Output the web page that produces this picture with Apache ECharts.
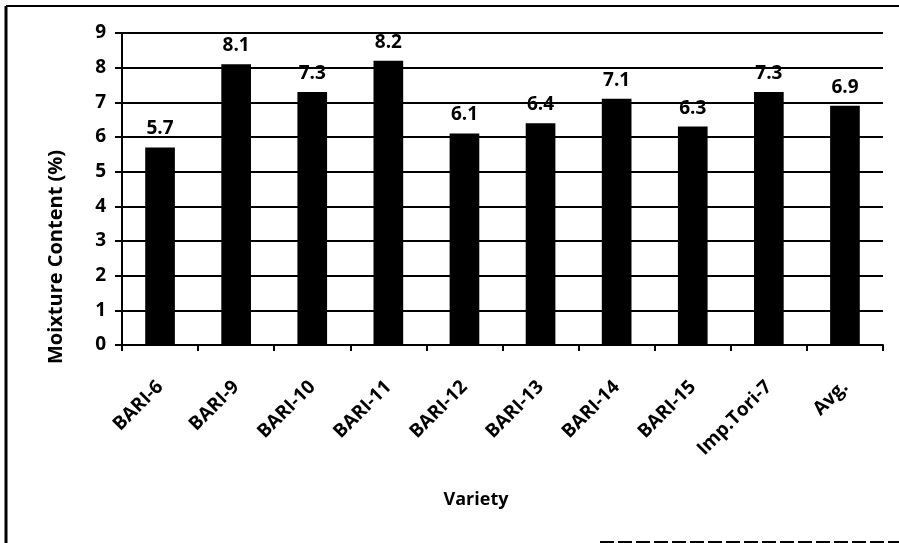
<!DOCTYPE html>
<html>
<head>
<meta charset="utf-8">
<script src="https://cdn.jsdelivr.net/npm/echarts@6/dist/echarts.min.js"></script>
<style>
  html, body { margin: 0; padding: 0; background: #fff; }
  #chart { width: 899px; height: 543px; }
</style>
</head>
<body>
<div id="chart"></div>
<script>
// Moisture content by variety
var categories = ['BARI-6', 'BARI-9', 'BARI-10', 'BARI-11', 'BARI-12', 'BARI-13', 'BARI-14', 'BARI-15', 'Imp.Tori-7', 'Avg.'];
var moisture = [5.7, 8.1, 7.3, 8.2, 6.1, 6.4, 7.1, 6.3, 7.3, 6.9];
var yTicks = [0, 1, 2, 3, 4, 5, 6, 7, 8, 9];
var xTitle = 'Variety';
var yTitle = 'Moixture Content (%)';

var FONT = 'Open Sans, Lato, sans-serif';
var chart = echarts.init(document.getElementById('chart'), null, { renderer: 'canvas' });

chart.setOption({
  backgroundColor: '#ffffff',
  animation: false,
  grid: { left: 122, right: 16, top: 33, bottom: 198, containLabel: false },
  xAxis: {
    type: 'category',
    data: categories,
    axisLine: { show: true, lineStyle: { color: '#000', width: 2 } },
    axisTick: { show: true, alignWithLabel: false, length: 6, lineStyle: { color: '#000', width: 2 } },
    axisLabel: {
      rotate: 45, margin: 39, fontFamily: FONT, fontWeight: 'bold', fontSize: 19, color: '#000', interval: 0
    },
    splitLine: { show: false }
  },
  yAxis: {
    type: 'value',
    min: yTicks[0],
    max: yTicks[yTicks.length - 1],
    interval: 1,
    axisLine: { show: true, lineStyle: { color: '#000', width: 2 } },
    axisTick: { show: true, length: 7, lineStyle: { color: '#000', width: 2 } },
    axisLabel: { margin: 16, fontFamily: FONT, fontWeight: 'bold', fontSize: 19, color: '#000' },
    splitLine: { show: true, lineStyle: { color: '#000', width: 2 } }
  },
  series: [{
    type: 'bar',
    data: moisture,
    barWidth: '39%',
    itemStyle: { color: '#000' },
    label: {
      show: true,
      position: 'top',
      distance: 9,
      fontFamily: FONT,
      fontWeight: 'bold',
      fontSize: 19,
      color: '#000',
      formatter: function (p) { return p.value.toFixed(1); }
    }
  }],
  graphic: [
    {
      type: 'text', x: 56, y: 257, rotation: Math.PI / 2,
      style: { text: yTitle, fontFamily: FONT, fontWeight: 'bold', fontSize: 20, fill: '#000', align: 'center', verticalAlign: 'middle' }
    },
    {
      type: 'text', x: 476, y: 500,
      style: { text: xTitle, fontFamily: FONT, fontWeight: 'bold', fontSize: 18, fill: '#000', align: 'center', verticalAlign: 'middle' }
    },
    { type: 'line', shape: { x1: 6, y1: 6, x2: 899, y2: 6 }, style: { stroke: '#000', lineWidth: 2 } },
    { type: 'line', shape: { x1: 6, y1: 6, x2: 6, y2: 543 }, style: { stroke: '#000', lineWidth: 3 } },
    { type: 'line', shape: { x1: 600, y1: 542, x2: 899, y2: 542 }, style: { stroke: '#000', lineWidth: 2, lineDash: [14, 4] } }
  ]
});
</script>
</body>
</html>
